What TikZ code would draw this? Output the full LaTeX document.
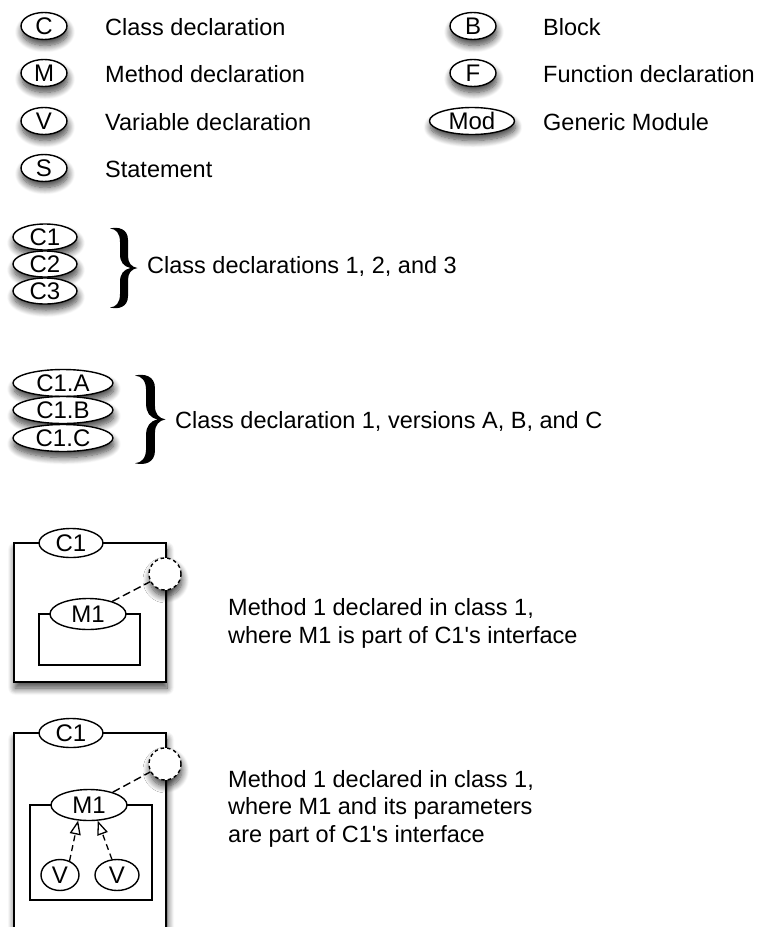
\documentclass[tikz,border=0pt]{standalone}
\usepackage{fontspec}
\setmainfont{Liberation Sans}
\usetikzlibrary{shapes.geometric,arrows.meta,shadows.blur}

% a filled curly brace, 27 wide and 80 high, top left corner at the origin (y grows downwards)
\newcommand{\bigbrace}{%
  (0,0.5) .. controls (8,-1.5) and (18,0.5) .. (18,12) -- (18,28)
  .. controls (18,35) and (21.5,39) .. (27.5,40)
  .. controls (21.5,41) and (18,45) .. (18,52) -- (18,68)
  .. controls (18,79.5) and (8,81.5) .. (0,79.5)
  .. controls (6,79) and (10,75) .. (10,66) -- (10,54)
  .. controls (10,46) and (13.5,41.5) .. (20.5,40)
  .. controls (13.5,38.5) and (10,34) .. (10,26) -- (10,14)
  .. controls (10,5) and (6,1) .. (0,0.5) -- cycle}

\begin{document}
\begin{tikzpicture}[x=1pt,y=-1pt,
  lbl/.style={font=\fontsize{23.5}{28}\selectfont, inner sep=0pt},
  legtext/.style={lbl, anchor=base west},
  tag/.style={lbl, font=\fontsize{24}{28}\selectfont, ellipse, draw, line width=1.4pt, fill=white,
              minimum width=#1, minimum height=27pt},
  tag/.default=46pt,
  shade/.style={blur shadow={shadow xshift=1pt, shadow yshift=-6pt,
              shadow blur radius=7pt, shadow opacity=75, shadow blur steps=10}},
  frame/.style={draw, line width=1.6pt, fill=white, inner sep=0pt},
  inner/.style={draw, line width=1.4pt, inner sep=0pt},
  port/.style={circle, draw, fill=white, line width=1.4pt, inner sep=0pt,
              minimum size=32pt, dash pattern=on 3.5pt off 3pt},
  link/.style={line width=1.4pt, dash pattern=on 8pt off 4pt},
  param/.style={line width=1.3pt, dash pattern=on 6pt off 4pt,
              -{Triangle[open, length=14pt, width=11pt, line width=1.3pt]}},
  brace/.style={fill=black}
]
\useasboundingbox (0,0) rectangle (762,927);
\clip (0,0) rectangle (762,927);

% legend, left column
\node[tag, shade] (c) at (44,26) {C};
\node[legtext] (tc) at (105,35) {Class declaration};
\node[tag, shade] (m) at (44,73) {M};
\node[legtext] (tm) at (105,82) {Method declaration};
\node[tag, shade] (v) at (44,121) {V};
\node[legtext] (tv) at (105,130) {Variable declaration};
\node[tag, shade] (s) at (44,168) {S};
\node[legtext] (ts) at (105,177) {Statement};

% legend, right column
\node[tag, shade] (b) at (473,26) {B};
\node[legtext] (tb) at (543,35) {Block};
\node[tag, shade] (f) at (473,73) {F};
\node[legtext] (tf) at (543,82) {Function declaration};
\node[tag=85pt, shade] (mod) at (472,121) {Mod};
\node[legtext] (tmod) at (543,130) {Generic Module};

% several classes
\node[tag=64pt, minimum height=26pt, shade] (c1) at (45,237) {C1};
\node[tag=64pt, minimum height=26pt, shade] (c2) at (45,264) {C2};
\node[tag=64pt, minimum height=26pt, shade] (c3) at (45,291) {C3};
\fill[brace, shift={(110,228)}] \bigbrace;
\node[legtext] (tcs) at (147,273.5) {Class declarations 1, 2, and 3};

% versions of one class
\node[tag=100pt, shade] (va) at (63,383) {C1.A};
\node[tag=100pt, shade] (vb) at (63,410) {C1.B};
\node[tag=100pt, shade] (vc) at (63,438) {C1.C};
\fill[brace, shift={(135,375)}, scale=1.11] \bigbrace;
\node[legtext] (tvs) at (175,428.5) {Class declaration 1, versions A, B, and C};

% method inside a class
\node[frame, shade, minimum width=152pt, minimum height=139pt] (k1) at (90,612.5) {};
\node[tag=64pt, minimum height=29pt] (k1c) at (71,543) {C1};
\node[inner, minimum width=101pt, minimum height=51pt] (k1in) at (89.5,639.5) {};
\node[tag=76pt, minimum height=31pt] (k1m) at (88,614) {M1};
\node[port, shade] (k1p) at (165,574) {};
\draw[link] (k1m) -- (k1p);
\node[legtext] (t1a) at (228,615.5) {Method 1 declared in class 1,};
\node[legtext] (t1b) at (228,643.5) {where M1 is part of C1\textquotesingle s interface};

% method with parameters inside a class
\node[frame, shade, minimum width=152pt, minimum height=227pt] (k2) at (90,846.5) {};
\node[tag=64pt, minimum height=29pt] (k2c) at (71,733) {C1};
\node[inner, minimum width=122pt, minimum height=95pt] (k2in) at (91,852.5) {};
\node[tag=76pt, minimum height=31pt] (k2m) at (89,805) {M1};
\node[tag=38pt, minimum height=31pt] (p1) at (60,875) {V};
\node[tag=44pt, minimum height=31pt] (p2) at (117,875) {V};
\draw[param] (p1.56) -- (k2m.235);
\draw[param] (p2.108) -- (k2m.299);
\node[port, shade] (k2p) at (165,764) {};
\draw[link] (k2m) -- (k2p);
\node[legtext] (t2a) at (228,787.5) {Method 1 declared in class 1,};
\node[legtext] (t2b) at (228,814.5) {where M1 and its parameters};
\node[legtext] (t2c) at (228,842.5) {are part of C1\textquotesingle s interface};
\end{tikzpicture}
\end{document}
